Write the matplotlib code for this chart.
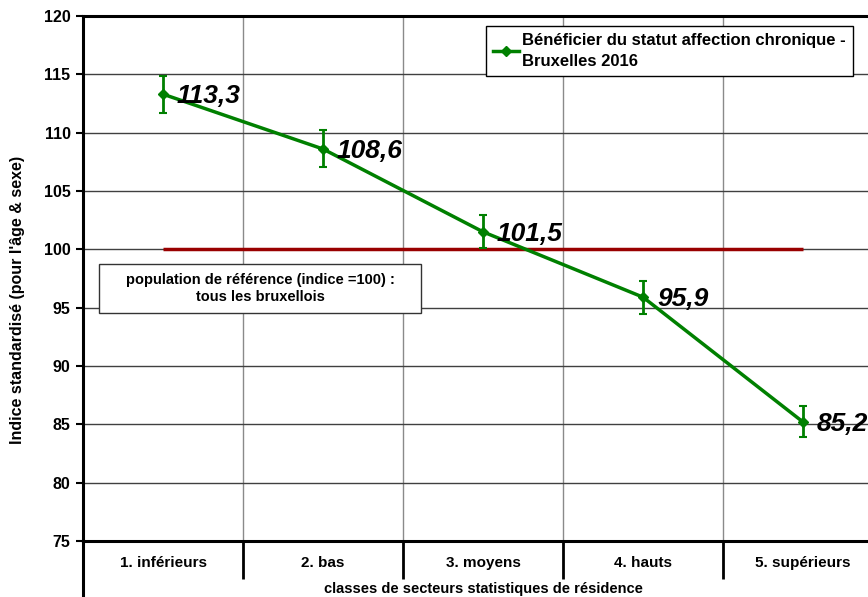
import numpy as np
import matplotlib.pyplot as plt
from matplotlib.patches import Rectangle
from matplotlib.lines import Line2D

plt.rcParams['font.family'] = ['Liberation Sans', 'DejaVu Sans']

# donnees
classes = ['1. inférieurs', '2. bas', '3. moyens', '4. hauts', '5. supérieurs']
indice = [113.3, 108.6, 101.5, 95.9, 85.2]
err_haut = [1.6, 1.6, 1.4, 1.35, 1.35]
err_bas = [1.65, 1.55, 1.4, 1.4, 1.3]
etiquettes = ['113,3', '108,6', '101,5', '95,9', '85,2']
reference = 100

vert = '#008000'
x = np.arange(len(classes))

fig = plt.figure(figsize=(8.68, 5.97), dpi=100)
ax = fig.add_axes([83/868, 1-541/597, 800/868, 525/597])

ax.set_xlim(-0.5, 4.5)
ax.set_ylim(75, 120)
ax.set_yticks(np.arange(75, 121, 5))

# grille
ax.set_xticks(x)
ax.set_xticks(x[:-1] + 0.5, minor=True)
ax.grid(axis='y', color='#404040', lw=1, zorder=0)
ax.grid(axis='x', which='minor', color='#8a8a8a', lw=1, zorder=0)
ax.set_axisbelow(True)

ax.set_xticklabels(classes, fontsize=11, fontweight='bold')
ax.tick_params(axis='x', which='major', length=0, pad=11)
ax.tick_params(axis='x', which='minor', length=27, width=2, direction='out')
ax.tick_params(axis='y', length=5, width=1.5, direction='out', pad=4)
for t in ax.get_yticklabels():
    t.set_fontweight('bold')
    t.set_fontsize(11.5)

for s in ['left', 'top', 'bottom']:
    ax.spines[s].set_linewidth(2.2)
ax.spines['right'].set_visible(False)

# ligne verticale prolongee sous l'axe
ax.add_line(Line2D([-0.5, -0.5], [75, 68], color='black', lw=2.2, clip_on=False))

# reference
ax.hlines(reference, x[0], x[-1], color='#990000', lw=2.5, zorder=3)

ax.errorbar(x, indice, yerr=[err_bas, err_haut], color=vert, ecolor=vert,
            lw=2.5, elinewidth=2, capsize=3, capthick=1.5, marker='D',
            markersize=5, zorder=4)

for xi, yi, lab in zip(x, indice, etiquettes):
    ax.annotate(lab, (xi, yi), xytext=(10, -1.5), textcoords='offset points',
                va='center', ha='left', fontsize=19, fontweight='bold',
                fontstyle='italic', zorder=5)

# boite population de reference
ax.add_patch(Rectangle((-0.4, 94.54), 2.0125, 4.2, facecolor='white',
                       edgecolor='#333333', lw=1, zorder=4))
ax.text(0.606, 96.64, 'population de référence (indice =100) :\ntous les bruxellois',
        ha='center', va='center', fontsize=10.5, fontweight='bold',
        linespacing=1.2, zorder=5)

poignee = Line2D([], [], color=vert, lw=2.5, marker='D', markersize=5)
leg = ax.legend([poignee], ['Bénéficier du statut affection chronique -\nBruxelles 2016'],
                loc='upper left', bbox_to_anchor=(486/868, 1-26/597),
                bbox_transform=fig.transFigure, borderaxespad=0,
                fancybox=False, framealpha=1, edgecolor='black',
                prop={'weight': 'bold', 'size': 12}, handlelength=1.5,
                handletextpad=0.2, borderpad=0.45)
leg.get_frame().set_linewidth(1)
leg.get_texts()[0].set_linespacing(1.45)
leg.set_zorder(6)

ax.set_ylabel("Indice standardisé (pour l'âge & sexe)", fontsize=11.5,
              fontweight='bold', labelpad=6)
ax.yaxis.set_label_coords(-0.072, 0.46)
fig.text(483/868, 1-589/597, 'classes de secteurs statistiques de résidence',
         ha='center', va='center', fontsize=10.5, fontweight='bold')

fig.savefig('out.png', dpi=100)
